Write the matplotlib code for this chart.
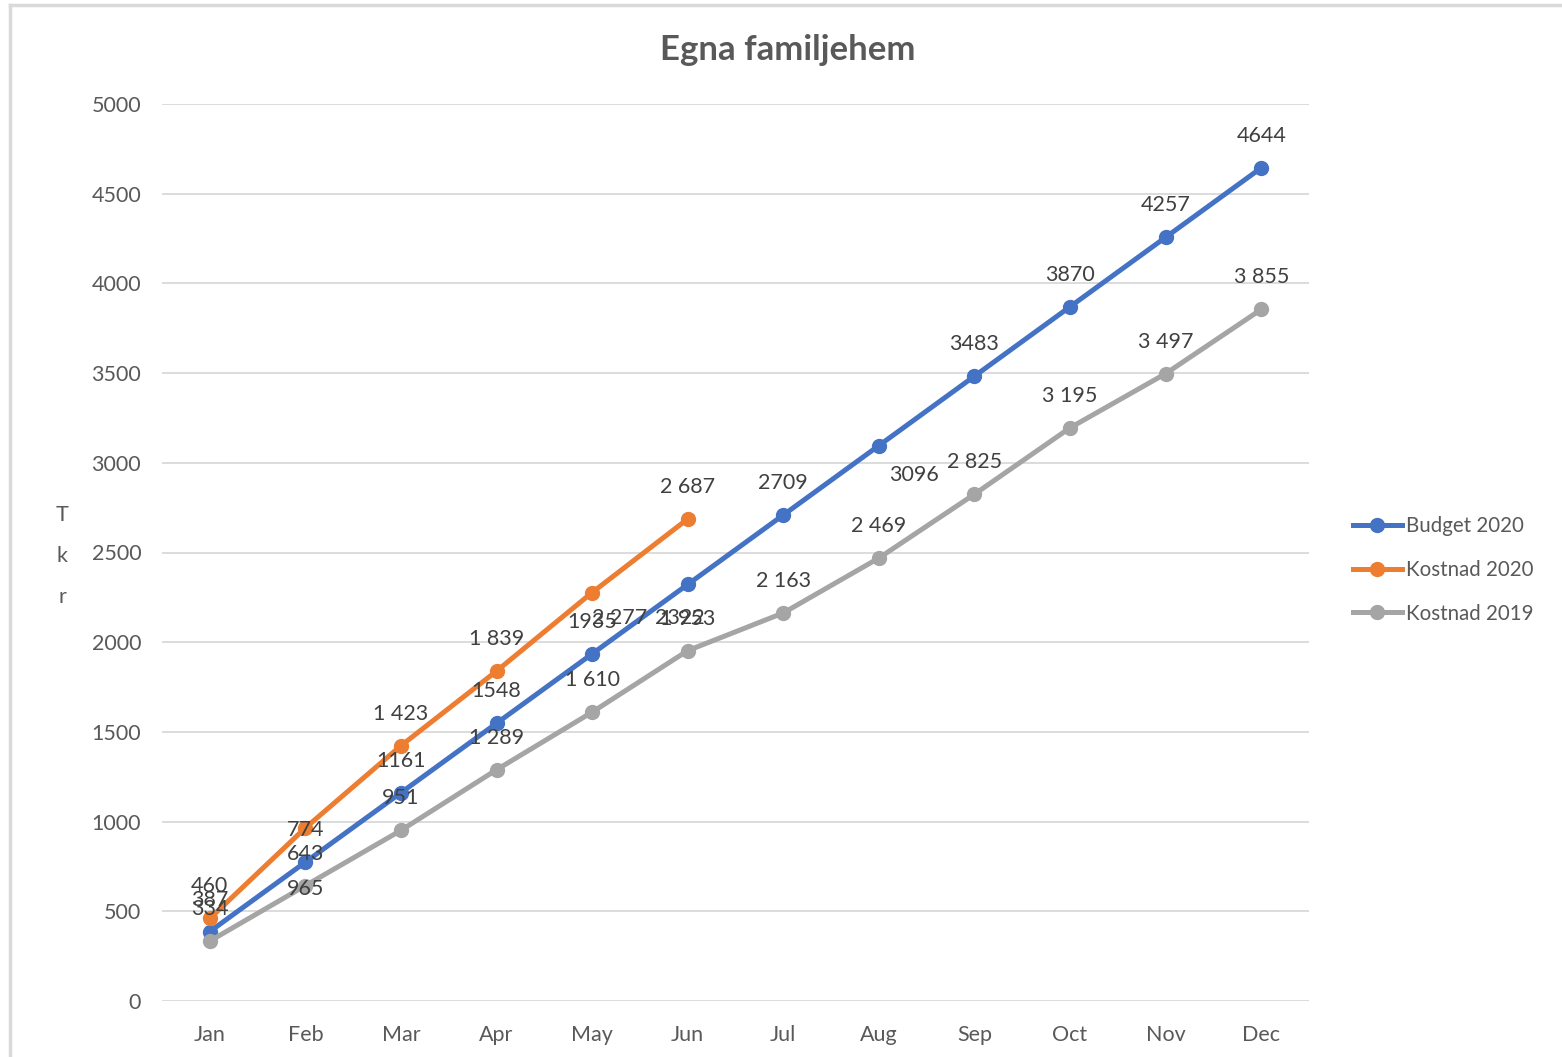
import matplotlib
matplotlib.use("Agg")
import matplotlib.pyplot as plt
from matplotlib.lines import Line2D

months = ["Jan", "Feb", "Mar", "Apr", "May", "Jun", "Jul", "Aug", "Sep", "Oct", "Nov", "Dec"]
budget_2020 = [387, 774, 1161, 1548, 1935, 2322, 2709, 3096, 3483, 3870, 4257, 4644]
kostnad_2020 = [460, 965, 1423, 1839, 2277, 2687]
kostnad_2019 = [334, 643, 951, 1289, 1610, 1953, 2163, 2469, 2825, 3195, 3497, 3855]
y_ticks = [0, 500, 1000, 1500, 2000, 2500, 3000, 3500, 4000, 4500, 5000]

# label offsets in pixels (dx, dy), default above
def offsets(n, special):
    out = [(0, 32)] * n
    for k, v in special.items():
        out[k] = v
    return out

off_budget = offsets(12, {5: (-8, -34), 7: (35, -29)})
off_k20 = offsets(6, {1: (0, -61), 4: (28, -25)})
off_k19 = offsets(12, {})

plt.rcParams['font.family'] = ['Lato', 'DejaVu Sans']

fig = plt.figure(figsize=(15.62, 10.57), dpi=100)
ax = fig.add_axes([162/1562, 56/1057, (1309-162)/1562, (1001-104)/1057])

C_BLUE = "#4472C4"
C_ORANGE = "#ED7D31"
C_GRAY = "#A5A5A5"
LW = 3.6
MS = 10

x_all = list(range(len(months)))
series = [
    ("Budget 2020", budget_2020, C_BLUE, off_budget, lambda v: f"{v}"),
    ("Kostnad 2020", kostnad_2020, C_ORANGE, off_k20, lambda v: f"{v:,}".replace(",", " ")),
    ("Kostnad 2019", kostnad_2019, C_GRAY, off_k19, lambda v: f"{v:,}".replace(",", " ")),
]

for name, vals, col, offs, fmt in series:
    xs = x_all[:len(vals)]
    ax.plot(xs, vals, color=col, lw=LW, marker="o", markersize=MS,
            solid_capstyle="round", label=name, zorder=3)

for name, vals, col, offs, fmt in series:
    xs = x_all[:len(vals)]
    for xi, v, (dx, dy) in zip(xs, vals, offs):
        ax.annotate(fmt(v), (xi, v), xytext=(dx, dy), textcoords="offset pixels",
                    ha="center", va="center", fontsize=15.5, color="#404040", zorder=5)

ax.set_xlim(-0.5, 11.5)
ax.set_ylim(0, 5000)
ax.set_yticks(y_ticks)
ax.set_xticks(x_all)
ax.set_xticklabels(months)
ax.tick_params(axis="both", length=0, labelsize=15.5, colors="#595959")
ax.tick_params(axis="y", pad=15)
ax.tick_params(axis="x", pad=17)
ax.grid(axis="y", color="#D9D9D9", lw=1.3)
ax.set_axisbelow(True)
for s in ax.spines.values():
    s.set_visible(False)

fig.text(62/1562, 1 - 556/1057, "T\nk\nr", ha="center", va="center",
         fontsize=15.5, color="#595959", linespacing=2.3)

fig.text(788/1562, 1 - 50/1057, "Egna familjehem", ha="center", va="center",
         fontsize=25, fontweight="bold", color="#595959")

leg_handles = [Line2D([0], [0], color=c, lw=LW, marker="o", markersize=MS)
               for c in (C_BLUE, C_ORANGE, C_GRAY)]
fig.legend(leg_handles, ["Budget 2020", "Kostnad 2020", "Kostnad 2019"],
           loc="center left", bbox_to_anchor=(1334/1562, 1 - 570/1057),
           frameon=False, fontsize=14.8, labelcolor="#595959",
           handlelength=2.4, handletextpad=0.2, labelspacing=1.15)

# outer frame lines (top and left)
fig.add_artist(Line2D([10/1562, 1], [1 - 5/1057, 1 - 5/1057], color="#D9D9D9", lw=2.5,
                      transform=fig.transFigure))
fig.add_artist(Line2D([10/1562, 10/1562], [0, 1 - 5/1057], color="#D9D9D9", lw=2.5,
                      transform=fig.transFigure))

fig.savefig("out.png", dpi=100)
